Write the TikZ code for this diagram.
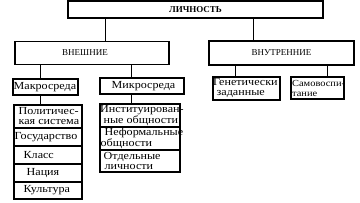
\documentclass[tikz,border=0pt]{standalone}
\usepackage{fontspec}
\setmainfont{Liberation Serif}
\newfontfamily\widefont[FakeStretch=1.12]{Liberation Serif}
\tikzset{
  box/.style={draw, line width=1.1pt, inner sep=0pt, anchor=center},
  txt/.style={inner sep=0pt, anchor=west, align=left, font=\widefont\fontsize{10.8}{10}\selectfont},
  head/.style={box, font=\fontsize{9}{10}\selectfont},
  conn/.style={line width=1pt}
}
\begin{document}
\begin{tikzpicture}[x=1pt,y=-1pt]
\useasboundingbox (0,0) rectangle (360,203);
% top level
\node[head, minimum width=255pt, minimum height=17pt, font=\fontsize{9}{10}\selectfont\bfseries] (L) at (195.5,9.5) {ЛИЧНОСТЬ};
\node[box, minimum width=154pt, minimum height=23pt] (Ext) at (92,53) {};
\node[inner sep=0pt, font=\fontsize{9}{10}\selectfont] (Extt) at (85,53) {ВНЕШНИЕ};
\node[head, minimum width=145pt, minimum height=24pt] (Int) at (281.5,53) {ВНУТРЕННИЕ};
% second level boxes
\node[box, minimum width=65pt, minimum height=16pt] (Mac) at (45.5,87) {};
\node[box, minimum width=84pt, minimum height=16pt] (Mic) at (142,86) {};
\node[box, minimum width=67pt, minimum height=23pt] (Gen) at (246.5,88.5) {};
\node[box, minimum width=53pt, minimum height=22pt] (Self) at (317.5,88) {};
% left stack
\node[box, minimum width=68pt, minimum height=23pt] (A1) at (48,116.5) {};
\node[box, minimum width=68pt, minimum height=18pt] (A2) at (48,137) {};
\node[box, minimum width=68pt, minimum height=18pt] (A3) at (48,155) {};
\node[box, minimum width=68pt, minimum height=18pt] (A4) at (48,173) {};
\node[box, minimum width=68pt, minimum height=17pt] (A5) at (48,190.5) {};
% right stack
\node[box, minimum width=80pt, minimum height=23pt] (B1) at (140,115.5) {};
\node[box, minimum width=80pt, minimum height=23pt] (B2) at (140,138.5) {};
\node[box, minimum width=80pt, minimum height=22pt] (B3) at (140,161) {};
% texts
\node[txt] (Mact) at ([xshift=1pt]Mac.west) {Макросреда};
\node[txt] (Mict) at ([xshift=12pt]Mic.west) {Микросреда};
\node[txt] (Gent) at ([xshift=0.5pt]Gen.west) {Генетически\\\hspace*{3.5pt}заданные};
\node[txt, font=\widefont\fontsize{9.3}{10}\selectfont] (Selft) at ([xshift=1.5pt]Self.west) {Самовоспи-\\тание};
\node[txt] (A1t) at ([xshift=5pt]A1.west) {Политичес-\\кая система};
\node[txt] (A2t) at ([xshift=1pt]A2.west) {Государство};
\node[txt] (A3t) at ([xshift=10pt]A3.west) {Класс};
\node[txt] (A4t) at ([xshift=13pt]A4.west) {Нация};
\node[txt] (A5t) at ([xshift=10pt]A5.west) {Культура};
\node[txt] (B1t) at ([xshift=0.5pt]B1.west) {Институирован-\\\hspace*{3.5pt}ные общности};
\node[txt] (B2t) at ([xshift=1pt]B2.west) {\hspace*{4pt}Неформальные\\общности};
\node[txt] (B3t) at ([xshift=4pt]B3.west) {Отдельные\\\hspace*{1pt}личности};
% connectors
\draw[conn] (L.south -| {106,0}) -- (Ext.north -| {106,0});
\draw[conn] (L.south -| {254,0}) -- (Int.north -| {254,0});
\draw[conn] (Ext.south -| {41,0}) -- (Mac.north -| {41,0});
\draw[conn] (Ext.south -| {132,0}) -- (Mic.north -| {132,0});
\draw[conn] (Int.south -| {236,0}) -- (Gen.north -| {236,0});
\draw[conn] (Int.south -| {328,0}) -- (Self.north -| {328,0});
\draw[conn] (Mac.south -| {41,0}) -- (A1.north -| {41,0});
\draw[conn] (Mic.south -| {132,0}) -- (B1.north -| {132,0});
\end{tikzpicture}
\end{document}
